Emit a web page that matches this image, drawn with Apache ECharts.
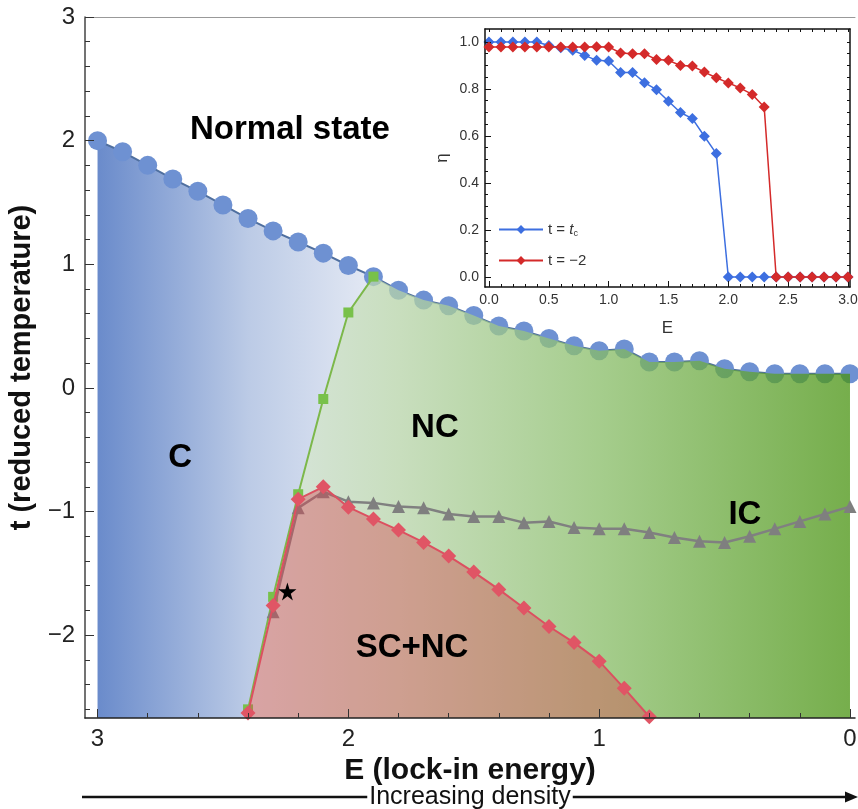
<!DOCTYPE html>
<html>
<head>
<meta charset="utf-8">
<script src="https://cdn.jsdelivr.net/npm/echarts@6/dist/echarts.min.js"></script>
<style>html,body{margin:0;padding:0;background:#fff}#c{width:858px;height:809px}</style>
</head>
<body>
<div id="c"></div>
<script>
// ---------- data ----------
// main phase diagram
const blueE = [3.0,2.9,2.8,2.7,2.6,2.5,2.4,2.3,2.2,2.1,2.0,1.9,1.8,1.7,1.6,1.5,1.4,1.3,1.2,1.1,1.0,0.9,0.8,0.7,0.6,0.5,0.4,0.3,0.2,0.1,0.0];
const blueT = [2.00,1.91,1.80,1.69,1.59,1.48,1.37,1.27,1.18,1.09,0.99,0.90,0.79,0.71,0.665,0.585,0.50,0.46,0.40,0.34,0.30,0.315,0.21,0.21,0.22,0.155,0.13,0.115,0.115,0.115,0.115];
const greenE = [2.4,2.3,2.2,2.1,2.0,1.9];
const greenT = [-2.60,-1.69,-0.86,-0.09,0.61,0.90];
const redE = [2.4,2.3,2.2,2.1,2.0,1.9,1.8,1.7,1.6,1.5,1.4,1.3,1.2,1.1,1.0,0.9,0.8];
const redT = [-2.63,-1.76,-0.90,-0.80,-0.965,-1.06,-1.15,-1.25,-1.36,-1.49,-1.63,-1.78,-1.93,-2.06,-2.21,-2.43,-2.66];
const greyE = [2.3,2.2,2.1,2.0,1.9,1.8,1.7,1.6,1.5,1.4,1.3,1.2,1.1,1.0,0.9,0.8,0.7,0.6,0.5,0.4,0.3,0.2,0.1,0.0];
const greyT = [-1.81,-0.97,-0.84,-0.92,-0.93,-0.96,-0.97,-1.02,-1.04,-1.04,-1.09,-1.08,-1.13,-1.14,-1.14,-1.17,-1.21,-1.24,-1.25,-1.20,-1.14,-1.08,-1.02,-0.96];
const starPoint = [2.243, -1.646];
const regionNames = ['Normal state','C','NC','IC','SC+NC'];
const regionE = [2.233, 2.671, 1.655, 0.419, 1.746];
const regionT = [2.087, -0.566, -0.324, -1.03, -2.10];
const mainXTicks = [0,1,2,3];
const mainYTicks = [-2,-1,0,1,2,3];
// inset
const insetE = [0.0,0.1,0.2,0.3,0.4,0.5,0.6,0.7,0.8,0.9,1.0,1.1,1.2,1.3,1.4,1.5,1.6,1.7,1.8,1.9,2.0,2.1,2.2,2.3,2.4,2.5,2.6,2.7,2.8,2.9,3.0];
const etaTc = [1,1,1,1,1,0.985,0.975,0.965,0.943,0.922,0.919,0.87,0.87,0.827,0.797,0.748,0.70,0.674,0.599,0.525,0,0,0,0,0,0,0,0,0,0,0];
const etaM2 = [0.979,0.979,0.979,0.979,0.979,0.979,0.979,0.979,0.979,0.98,0.979,0.953,0.95,0.95,0.925,0.922,0.90,0.898,0.872,0.848,0.826,0.804,0.777,0.723,0,0,0,0,0,0,0];
const insetXTicks = [0,0.5,1,1.5,2,2.5,3];
const insetYTicks = [0,0.2,0.4,0.6,0.8,1.0];

// ---------- helpers ----------
const zip = (a, b) => a.map((v, i) => [v, b[i]]);
const range = (a, b, s) => { const r = []; for (let v = a; v <= b + 1e-9; v += s) r.push(+v.toFixed(4)); return r; };
const minus = v => String(v).replace('-', '\u2212');
const FONT = 'Liberation Sans, Arial, Helvetica, sans-serif';
const X_MIN = -0.02, X_MAX = 3.05, Y_MIN = -2.67, Y_MAX = 3;
const IX_MIN = -0.033, IX_MAX = 3.017, IY_MIN = -0.0426, IY_MAX = 1.0553;

const minorX = range(0, 3, 0.2).filter(v => Math.abs(v - Math.round(v)) > 1e-6);
const minorY = range(-2.6, 3, 0.2).filter(v => Math.abs(v - Math.round(v)) > 1e-6);
const insetMinorX = range(0, 3, 0.1);
const insetMinorY = range(0, 1, 0.05);

const blueData = zip(blueE, blueT);
const greenData = zip(greenE, greenT);
const iJ = blueE.indexOf(1.9);
const cPoly = [[blueE[0], Y_MIN]].concat(blueData.slice(0, iJ + 1)).concat(greenData.slice().reverse().slice(1)).concat([[greenE[0], Y_MIN]]);
const ncPoly = blueData.slice(iJ).concat([[blueE[blueE.length - 1], Y_MIN], [greenE[0], Y_MIN]]).concat(greenData.slice(0, greenData.length - 1));

function polySeries(name, pts, fill, z) {
  return {
    name, type: 'custom', xAxisIndex: 0, yAxisIndex: 0, z, silent: true,
    data: [[pts[0][0], pts[0][1]]],
    renderItem: (params, api) => ({
      type: 'polygon',
      shape: { points: pts.map(p => api.coord(p)) },
      style: { fill: fill, stroke: null }
    })
  };
}

const chart = echarts.init(document.getElementById('c'), null, { renderer: 'canvas' });
const baseAxis = { splitLine: { show: false }, z: 10 };
const noZero = (c, w) => ({ show: true, onZero: false, lineStyle: { color: c, width: w } });

const option = {
  animation: false,
  backgroundColor: '#fff',
  textStyle: { fontFamily: FONT },
  grid: [
    { left: 85, right: 3, top: 17, bottom: 91, containLabel: false, outerBoundsMode: 'none' },
    { left: 485, top: 29, width: 365, height: 258, show: true, backgroundColor: '#fff', borderWidth: 0, z: 20, containLabel: false, outerBoundsMode: 'none' }
  ],
  xAxis: [
    Object.assign({}, baseAxis, { gridIndex: 0, type: 'value', inverse: true, min: X_MIN, max: X_MAX, position: 'bottom',
      axisLine: noZero('#222', 1.5),
      axisTick: { inside: true, length: 9, customValues: mainXTicks, lineStyle: { color: '#333' } },
      axisLabel: { customValues: mainXTicks, fontSize: 24, color: '#222', margin: 9, formatter: minus },
      name: 'E (lock-in energy)', nameLocation: 'middle', nameGap: 37,
      nameTextStyle: { fontSize: 30, fontWeight: 'bold', color: '#111' } }),
    Object.assign({}, baseAxis, { gridIndex: 0, type: 'value', inverse: true, min: X_MIN, max: X_MAX, position: 'bottom',
      axisLine: { show: false, onZero: false }, axisLabel: { show: false },
      axisTick: { inside: true, length: 5, customValues: minorX, lineStyle: { color: '#333' } } }),
    Object.assign({}, baseAxis, { gridIndex: 0, type: 'value', inverse: true, min: X_MIN, max: X_MAX, position: 'top',
      axisLine: noZero('#999', 1), axisTick: { show: false }, axisLabel: { show: false } }),
    Object.assign({}, baseAxis, { gridIndex: 1, type: 'value', min: IX_MIN, max: IX_MAX, position: 'bottom', z: 22,
      axisLine: noZero('#111', 1.5),
      axisTick: { inside: true, length: 6, customValues: insetXTicks, lineStyle: { color: '#111' } },
      axisLabel: { customValues: insetXTicks, fontSize: 14, color: '#333', margin: 6, formatter: v => v.toFixed(1) },
      name: 'E', nameLocation: 'middle', nameGap: 33, nameTextStyle: { fontSize: 17, color: '#333' } }),
    Object.assign({}, baseAxis, { gridIndex: 1, type: 'value', min: IX_MIN, max: IX_MAX, position: 'bottom', z: 22,
      axisLine: { show: false, onZero: false }, axisLabel: { show: false },
      axisTick: { inside: true, length: 3, customValues: insetMinorX, lineStyle: { color: '#111' } } }),
    Object.assign({}, baseAxis, { gridIndex: 1, type: 'value', min: IX_MIN, max: IX_MAX, position: 'top', z: 22,
      axisLine: noZero('#111', 1.5), axisLabel: { show: false },
      axisTick: { inside: true, length: 3, customValues: insetMinorX, lineStyle: { color: '#111' } } })
  ],
  yAxis: [
    Object.assign({}, baseAxis, { gridIndex: 0, type: 'value', min: Y_MIN, max: Y_MAX, position: 'left',
      axisLine: noZero('#444', 1.5),
      axisTick: { show: true, inside: true, length: 9, customValues: mainYTicks, lineStyle: { color: '#333' } },
      axisLabel: { customValues: mainYTicks, fontSize: 24, color: '#222', margin: 10, formatter: minus },
      name: 't (reduced temperature)', nameLocation: 'middle', nameGap: 47,
      nameTextStyle: { fontSize: 29, fontWeight: 'bold', color: '#111' } }),
    Object.assign({}, baseAxis, { gridIndex: 0, type: 'value', min: Y_MIN, max: Y_MAX, position: 'left',
      axisLine: { show: false, onZero: false }, axisLabel: { show: false },
      axisTick: { show: true, inside: true, length: 5, customValues: minorY, lineStyle: { color: '#333' } } }),
    Object.assign({}, baseAxis, { gridIndex: 1, type: 'value', min: IY_MIN, max: IY_MAX, position: 'left', z: 22,
      axisLine: noZero('#111', 1.5),
      axisTick: { show: true, inside: true, length: 6, customValues: insetYTicks, lineStyle: { color: '#111' } },
      axisLabel: { customValues: insetYTicks, fontSize: 14, color: '#333', margin: 6, formatter: v => v.toFixed(1) },
      name: '\u03b7', nameLocation: 'middle', nameGap: 34, nameTextStyle: { fontSize: 17, color: '#333' } }),
    Object.assign({}, baseAxis, { gridIndex: 1, type: 'value', min: IY_MIN, max: IY_MAX, position: 'left', z: 22,
      axisLine: { show: false, onZero: false }, axisLabel: { show: false },
      axisTick: { show: true, inside: true, length: 3, customValues: insetMinorY, lineStyle: { color: '#111' } } }),
    Object.assign({}, baseAxis, { gridIndex: 1, type: 'value', min: IY_MIN, max: IY_MAX, position: 'right', z: 22,
      axisLine: noZero('#111', 1.5), axisLabel: { show: false },
      axisTick: { show: true, inside: true, length: 3, customValues: insetMinorY, lineStyle: { color: '#111' } } })
  ],
  legend: {
    z: 25, orient: 'vertical', left: 493, top: 217, itemGap: 15, itemWidth: 44, itemHeight: 11,
    data: ['tc', 'm2'],
    textStyle: { fontSize: 15, color: '#333', fontFamily: FONT,
      rich: { it: { fontSize: 15, fontStyle: 'italic', color: '#333' }, sub: { fontSize: 9, color: '#333', padding: [8, 0, 0, 0] } } },
    formatter: n => n === 'tc' ? 't = {it|t}{sub|c}' : 't = \u22122'
  },
  graphic: [
    { type: 'line', shape: { x1: 82, y1: 797, x2: 847, y2: 797 }, style: { stroke: '#111', lineWidth: 2.5 } },
    { type: 'polygon', shape: { points: [[845, 791.5], [858, 797], [845, 802.5]] }, style: { fill: '#111' } },
    { type: 'text', x: 470, y: 797, style: { text: 'Increasing density', fontSize: 25, fontFamily: FONT, fill: '#111',
      align: 'center', verticalAlign: 'middle', backgroundColor: '#fff', padding: [0, 2] } }
  ],
  series: [
    polySeries('C region', cPoly, { type: 'linear', x: 0, y: 0, x2: 1, y2: 0, colorStops: [
      { offset: 0, color: '#6a8bcb' }, { offset: 0.55, color: '#bccbe6' }, { offset: 1, color: '#e4e9f4' } ] }, 1),
    { name: 'normal', type: 'line', xAxisIndex: 0, yAxisIndex: 0, z: 2, data: blueData,
      symbol: 'circle', symbolSize: 19, itemStyle: { color: '#6e91d2' },
      lineStyle: { color: '#4f6f9f', width: 2 } },
    polySeries('NC region', ncPoly, { type: 'linear', x: 0, y: 0, x2: 1, y2: 0, colorStops: [
      { offset: 0, color: 'rgba(206,222,215,0.75)' }, { offset: 0.25, color: 'rgba(182,211,168,0.75)' },
      { offset: 0.585, color: 'rgba(135,188,102,0.75)' }, { offset: 1, color: 'rgba(72,147,16,0.75)' } ] }, 3),
    { name: 'CNC', type: 'line', xAxisIndex: 0, yAxisIndex: 0, z: 4, data: greenData,
      symbol: 'rect', symbolSize: 10, itemStyle: { color: '#78c14a' }, lineStyle: { color: '#7cb84a', width: 2 } },
    { name: 'IC', type: 'line', xAxisIndex: 0, yAxisIndex: 0, z: 5, data: zip(greyE, greyT),
      symbol: 'triangle', symbolSize: 13, itemStyle: { color: '#7f7f7f' }, lineStyle: { color: '#808080', width: 2.5 } },
    { name: 'SC', type: 'line', xAxisIndex: 0, yAxisIndex: 0, z: 6, data: zip(redE, redT),
      symbol: 'diamond', symbolSize: 15, itemStyle: { color: '#e05565' }, lineStyle: { color: '#dc5060', width: 2 },
      areaStyle: { origin: 'start', color: 'rgba(214,72,82,0.6)' } },
    { name: 'star', type: 'scatter', xAxisIndex: 0, yAxisIndex: 0, z: 7, data: [starPoint],
      symbol: 'path://M50,0 L61,35 98,35 68,57 79,91 50,70 21,91 32,57 2,35 39,35 Z', symbolSize: 18,
      itemStyle: { color: '#000', opacity: 1 } },
    { name: 'labels', type: 'scatter', xAxisIndex: 0, yAxisIndex: 0, z: 8, silent: true,
      data: regionNames.map((n, i) => ({ name: n, value: [regionE[i], regionT[i]] })),
      symbolSize: 1, itemStyle: { color: 'rgba(0,0,0,0)', opacity: 1 },
      label: { show: true, position: 'inside', formatter: '{b}', fontSize: 33, fontWeight: 'bold', color: '#000',
        opacity: 1, textBorderWidth: 0, fontFamily: FONT } },
    { name: 'tc', type: 'line', xAxisIndex: 3, yAxisIndex: 2, z: 21, data: zip(insetE, etaTc),
      symbol: 'diamond', symbolSize: 11, itemStyle: { color: '#3d6fe0' }, lineStyle: { color: '#3d6fe0', width: 1.5 } },
    { name: 'm2', type: 'line', xAxisIndex: 3, yAxisIndex: 2, z: 22, data: zip(insetE, etaM2),
      symbol: 'diamond', symbolSize: 11, itemStyle: { color: '#d42a2a' }, lineStyle: { color: '#d42a2a', width: 1.5 } }
  ]
};
chart.setOption(option);
</script>
</body>
</html>
